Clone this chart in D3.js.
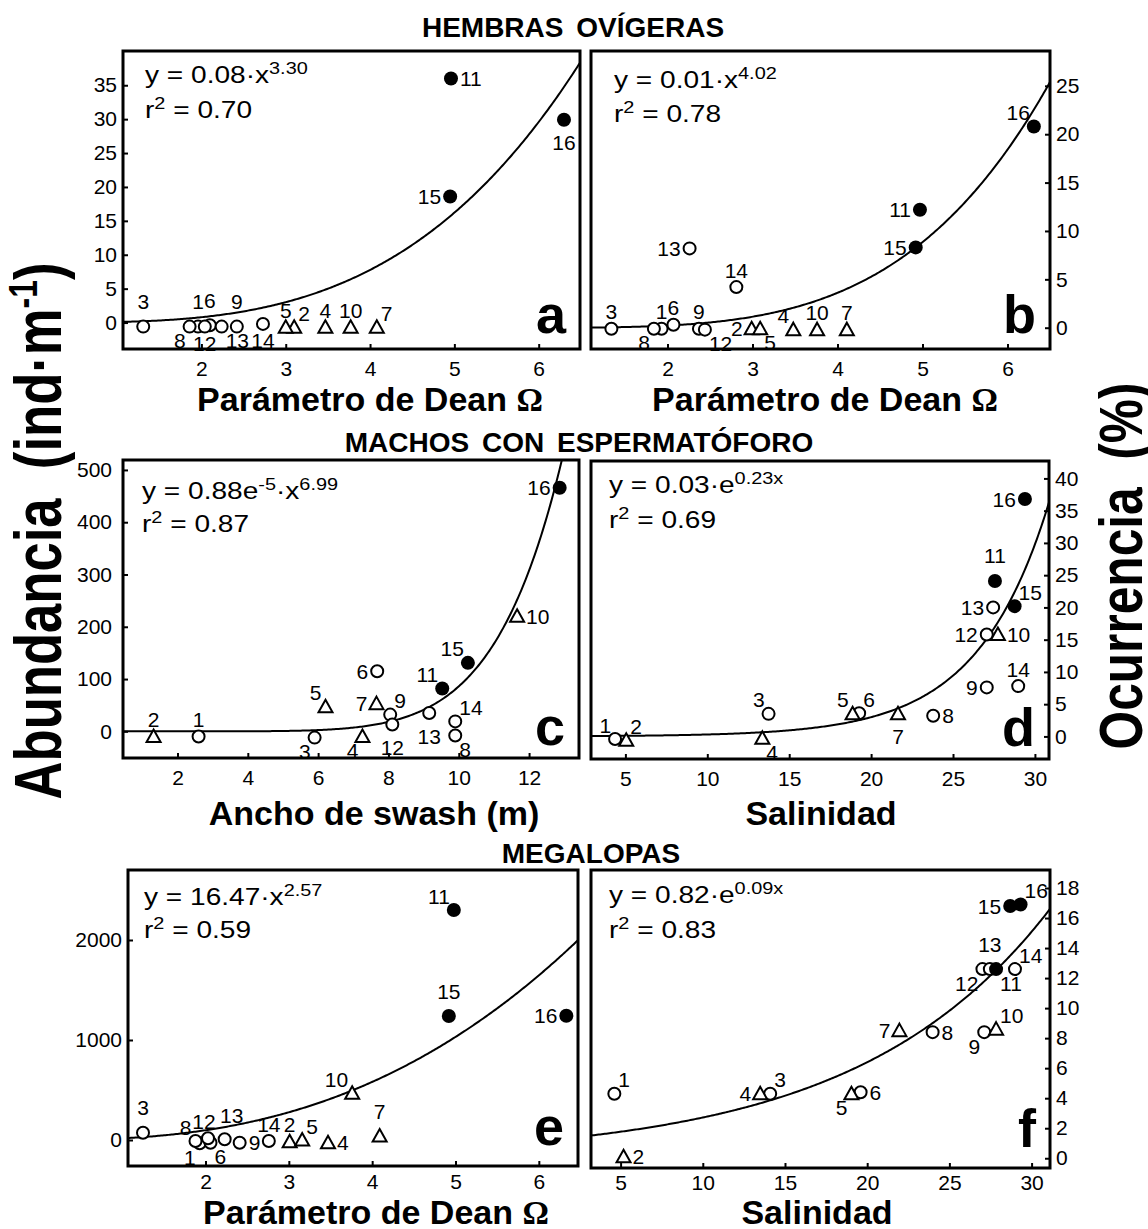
<!DOCTYPE html>
<html>
<head>
<meta charset="utf-8">
<script src="https://cdn.jsdelivr.net/npm/d3@7"></script>
<style>
  html, body { margin: 0; padding: 0; background: #fff; }
  svg { display: block; }
</style>
</head>
<body>
<script>
const FONT = '"Liberation Sans", Arial, Helvetica, sans-serif'

// beach numbers 1..16 and marker kind (o = open circle, t = triangle, f = filled circle)
const beaches = d3.range(1, 17)
const markerKind = ['o', 't', 'o', 't', 't', 'o', 't', 'o', 'o', 't', 'f', 'o', 'o', 'o', 'f', 'f']

// a: ovigerous females, abundance vs Dean parameter
const deanOvigAbund = [1.96, 3.10, 1.31, 3.47, 3.00, 2.10, 4.08, 1.86, 2.42, 3.77, 4.96, 2.04, 2.24, 2.73, 4.95, 6.30]
const ovigAbund = [-0.6, -0.7, -0.6, -0.7, -0.7, -0.4, -0.7, -0.6, -0.6, -0.7, 36.0, -0.6, -0.6, -0.2, 18.6, 29.9]
// b: ovigerous females, occurrence vs Dean parameter
const deanOvigOcc = [1.93, 2.99, 1.34, 3.48, 3.09, 2.07, 4.11, 1.84, 2.37, 3.76, 4.97, 2.44, 2.26, 2.81, 4.92, 6.31]
const ovigOcc = [-0.1, -0.1, -0.1, -0.2, -0.1, 0.3, -0.2, -0.1, -0.1, -0.2, 12.2, -0.2, 8.2, 4.2, 8.3, 20.8]
// c: males with spermatophore, abundance vs swash width
const swashMacho = [2.60, 1.32, 5.90, 7.26, 6.21, 7.68, 7.66, 9.90, 8.05, 11.66, 9.53, 8.11, 9.16, 9.90, 10.26, 12.87]
const machoAbund = [-10, -10, -12, -10, 47, 115, 53, -8, 32, 220, 82, 13, 35, 19, 131, 466]
// d: males with spermatophore, occurrence vs salinity
const salMacho = [4.37, 5.05, 13.74, 13.36, 18.87, 19.27, 21.64, 23.79, 27.06, 27.74, 27.56, 27.06, 27.45, 28.98, 28.76, 29.39]
const machoOcc = [-0.4, -0.6, 3.5, -0.3, 3.5, 3.6, 3.5, 3.2, 7.6, 15.8, 24.1, 15.8, 20.0, 7.8, 20.2, 36.8]
// e: megalopae, abundance vs Dean parameter
const deanMega = [1.93, 3.01, 1.25, 3.47, 3.16, 2.06, 4.09, 1.88, 2.41, 3.76, 4.98, 2.03, 2.23, 2.76, 4.92, 6.33]
const megaAbund = [-33, -17, 73, -27, 0, -27, 40, -10, -27, 467, 2300, 17, 7, -10, 1240, 1243]
// f: megalopae, occurrence vs salinity
const salMega = [4.62, 5.18, 14.10, 13.49, 19.04, 19.60, 21.96, 23.98, 27.12, 27.84, 27.84, 27.01, 27.46, 28.99, 28.70, 29.33]
const megaOcc = [4.3, 0.1, 4.3, 4.3, 4.3, 4.4, 8.5, 8.4, 8.4, 8.6, 12.6, 12.6, 12.6, 12.6, 16.8, 16.9]

// fitted curves (pow: a*x^b, exp: a*e^(b*x))
const fitA = { kind: 'pow', a: 0.08, b: 3.30 }
const fitB = { kind: 'pow', a: 0.0137, b: 4.02 }
const fitC = { kind: 'pow', a: 0.88e-5, b: 6.99 }
const fitD = { kind: 'exp', a: 0.03, b: 0.23 }
const fitE = { kind: 'pow', a: 16.47, b: 2.57 }
const fitF = { kind: 'exp', a: 1.15, b: 0.0858 }

// tick values
const deanTicks = [2, 3, 4, 5, 6]
const swashTicks = [2, 4, 6, 8, 10, 12]
const salTicks = [5, 10, 15, 20, 25, 30]
const ticksOvigAbund = [0, 5, 10, 15, 20, 25, 30, 35]
const ticksOvigOcc = [0, 5, 10, 15, 20, 25]
const ticksMachoAbund = [0, 100, 200, 300, 400, 500]
const ticksMachoOcc = [0, 5, 10, 15, 20, 25, 30, 35, 40]
const ticksMegaAbund = [0, 1000, 2000]
const ticksMegaOcc = [0, 2, 4, 6, 8, 10, 12, 14, 16, 18]

// point label placement per beach
const labA = ['N', 'ne', 'N', 'n', 'n', 'N', 'ne', 'sw', 'N', 'n', 'e', 's', 'se', 's', 'w', 'S']
const labB = ['n', 'w', 'n', 'nw', 'se', 'n', 'n', 'sw', 'n', 'n', 'w', 'se', 'w', 'n', 'w', 'nw']
const labC = ['n', 'n', 'sw', 'sw', 'nw', 'w', 'w', 'se', 'ne', 'e', 'nw', 'S', 'S', 'ne', 'nw', 'w']
const labD = ['nw', 'ne', 'nw', 'se', 'nw', 'ne', 'S', 'e', 'w', 'e', 'N', 'w', 'w', 'n', 'ne', 'w']
const labE = ['sw', 'n', 'N', 'e', 'ne', 'se', 'N', 'nw', 'e', 'nw', 'nw', 'nl', 'Nr', 'n', 'N', 'w']
const labF = ['ne', 'e', 'ne', 'w', 'sw', 'e', 'w', 'e', 'sw', 'ne', 'se', 'sw', 'N', 'ne', 'w', 'ne']

const OFF = {
  n: [0, -17, 'middle'], N: [0, -25, 'middle'], s: [0, 17, 'middle'], S: [0, 23, 'middle'],
  nl: [-4, -17, 'middle'], Nr: [7, -24, 'middle'],
  e: [9, 0, 'start'], w: [-9, 0, 'end'],
  ne: [4, -14, 'start'], nw: [-4, -14, 'end'], se: [4, 14, 'start'], sw: [-4, 14, 'end']
}

const panels = [
  { id: 'a', xv: deanOvigAbund, yv: ovigAbund, lab: labA, fit: fitA, box: [123, 51, 580, 349],
    xd: [1.07, 6.49], yd: [-3.9, 40.05], xt: deanTicks, yt: ticksOvigAbund, side: 'left', pad: 6, xpad: 12,
    eq: [[['y = 0.08·x', 0], ['3.30', 1]], [['r', 0], ['2', 1], [' = 0.70', 0]]], eqPos: [145, 83, 118],
    letterDy: 16, title: 'dean', titlePos: [370, 411] },
  { id: 'b', xv: deanOvigOcc, yv: ovigOcc, lab: labB, fit: fitB, box: [591, 51, 1050, 349],
    xd: [1.1, 6.5], yd: [-2.2, 28.6], xt: deanTicks, yt: ticksOvigOcc, side: 'right', pad: 6, xpad: 12,
    eq: [[['y = 0.01·x', 0], ['4.02', 1]], [['r', 0], ['2', 1], [' = 0.78', 0]]], eqPos: [614, 88, 122],
    letterDy: 16, title: 'dean', titlePos: [825, 411] },
  { id: 'c', xv: swashMacho, yv: machoAbund, lab: labC, fit: fitC, box: [123, 460, 579, 758],
    xd: [0.45, 13.42], yd: [-51, 519], xt: swashTicks, yt: ticksMachoAbund, side: 'left', pad: 11, xpad: 12,
    eq: [[['y = 0.88e', 0], ['-5', 1], ['·x', 0], ['6.99', 1]], [['r', 0], ['2', 1], [' = 0.87', 0]]], eqPos: [142, 499, 532],
    letterDy: 13, title: 'Ancho de swash (m)', titlePos: [374, 825] },
  { id: 'd', xv: salMacho, yv: machoOcc, lab: labD, fit: fitD, box: [591, 461, 1049, 759],
    xd: [2.9, 30.86], yd: [-3.5, 42.7], xt: salTicks, yt: ticksMachoOcc, side: 'right', pad: 6, xpad: 12,
    eq: [[['y = 0.03·e', 0], ['0.23x', 1]], [['r', 0], ['2', 1], [' = 0.69', 0]]], eqPos: [609, 493, 528],
    letterDy: 13, title: 'Salinidad', titlePos: [821, 825] },
  { id: 'e', xv: deanMega, yv: megaAbund, lab: labE, fit: fitE, box: [128, 870, 578, 1166],
    xd: [1.07, 6.47], yd: [-260, 2700], xt: deanTicks, yt: ticksMegaAbund, side: 'left', pad: 6, xpad: 8,
    eq: [[['y = 16.47·x', 0], ['2.57', 1]], [['r', 0], ['2', 1], [' = 0.59', 0]]], eqPos: [144, 905, 938],
    letterDy: 21, title: 'dean', titlePos: [376, 1224] },
  { id: 'f', xv: salMega, yv: megaOcc, lab: labF, fit: fitF, box: [591, 870, 1050, 1168],
    xd: [3.2, 31.12], yd: [-0.65, 19.2], xt: salTicks, yt: ticksMegaOcc, side: 'right', pad: 6, xpad: 7,
    eq: [[['y = 0.82·e', 0], ['0.09x', 1]], [['r', 0], ['2', 1], [' = 0.83', 0]]], eqPos: [609, 903, 938],
    letterDy: 21, title: 'Salinidad', titlePos: [817, 1224] }
]

const rowTitles = [
  { text: 'HEMBRAS OVÍGERAS', x: 573, y: 37 },
  { text: 'MACHOS CON ESPERMATÓFORO', x: 579, y: 452 },
  { text: 'MEGALOPAS', x: 591, y: 863 }
]

function fitValue(fit, x) {
  return fit.kind === 'pow' ? fit.a * Math.pow(x, fit.b) : fit.a * Math.exp(fit.b * x)
}

const W = 1148
const H = 1229

const svg = d3.select('body')
  .append('svg')
  .attr('width', W)
  .attr('height', H)
  .attr('viewBox', `0 0 ${W} ${H}`)
  .attr('font-family', FONT)

svg.append('rect').attr('width', W).attr('height', H).attr('fill', '#fff')

const defs = svg.append('defs')

panels.forEach(p => {
  const [x0, y0, x1, y1] = p.box
  const xs = d3.scaleLinear().domain(p.xd).range([x0, x1])
  const ys = d3.scaleLinear().domain(p.yd).range([y1, y0])
  const g = svg.append('g')

  defs.append('clipPath').attr('id', 'clip-' + p.id)
    .append('rect')
    .attr('x', x0).attr('y', y0)
    .attr('width', x1 - x0).attr('height', y1 - y0)

  // fitted curve
  const samples = d3.range(0, 301).map(i => p.xd[0] + (p.xd[1] - p.xd[0]) * i / 300)
  g.append('path')
    .datum(samples)
    .attr('clip-path', `url(#clip-${p.id})`)
    .attr('fill', 'none')
    .attr('stroke', '#000')
    .attr('stroke-width', 2)
    .attr('d', d3.line().x(d => xs(d)).y(d => ys(fitValue(p.fit, d))))

  // axes with inward ticks
  const xAxis = g.append('g')
    .attr('transform', `translate(0,${y1})`)
    .call(d3.axisBottom(xs).tickValues(p.xt).tickSize(-5).tickPadding(p.xpad).tickFormat(d3.format('d')))
  const yAxis = g.append('g')
    .attr('transform', `translate(${p.side === 'left' ? x0 : x1},0)`)
    .call((p.side === 'left' ? d3.axisLeft(ys) : d3.axisRight(ys))
      .tickValues(p.yt).tickSize(-5).tickPadding(p.pad).tickFormat(d3.format('d')))
  ;[xAxis, yAxis].forEach(a => {
    a.attr('font-size', 21).attr('font-family', FONT)
    a.select('.domain').remove()
    a.selectAll('.tick line').attr('stroke', '#000').attr('stroke-width', 2)
    a.selectAll('.tick text').attr('fill', '#000')
  })

  // markers
  const pts = beaches.map((b, i) => ({ b, kind: markerKind[i], x: p.xv[i], y: p.yv[i], pos: p.lab[i] }))
  const mk = g.append('g')
  mk.selectAll('circle.open')
    .data(pts.filter(d => d.kind === 'o'))
    .join('circle')
    .attr('cx', d => xs(d.x))
    .attr('cy', d => ys(d.y))
    .attr('r', 6)
    .attr('fill', '#fff')
    .attr('stroke', '#000')
    .attr('stroke-width', 2)
  mk.selectAll('path.tri')
    .data(pts.filter(d => d.kind === 't'))
    .join('path')
    .attr('transform', d => `translate(${xs(d.x)},${ys(d.y)})`)
    .attr('d', 'M0,-7L7,5.5L-7,5.5Z')
    .attr('fill', '#fff')
    .attr('stroke', '#000')
    .attr('stroke-width', 2)
  mk.selectAll('circle.fill')
    .data(pts.filter(d => d.kind === 'f'))
    .join('circle')
    .attr('cx', d => xs(d.x))
    .attr('cy', d => ys(d.y))
    .attr('r', 7)
    .attr('fill', '#000')

  // beach labels
  g.append('g')
    .selectAll('text')
    .data(pts)
    .join('text')
    .attr('x', d => xs(d.x) + OFF[d.pos][0])
    .attr('y', d => ys(d.y) + OFF[d.pos][1] + 7.5)
    .attr('text-anchor', d => OFF[d.pos][2])
    .attr('font-size', 21)
    .attr('fill', '#000')
    .text(d => d.b)

  // frame
  g.append('rect')
    .attr('x', x0).attr('y', y0)
    .attr('width', x1 - x0).attr('height', y1 - y0)
    .attr('fill', 'none')
    .attr('stroke', '#000')
    .attr('stroke-width', 3)

  // equation block
  const [ex, ey1, ey2] = p.eqPos
  ;[ey1, ey2].forEach((ey, li) => {
    const t = g.append('text')
      .attr('transform', `translate(${ex},${ey}) scale(1.17,1)`)
      .attr('font-size', 24)
      .attr('fill', '#000')
    let up = false
    p.eq[li].forEach(([s, sup]) => {
      const dy = sup && !up ? -9 : (!sup && up ? 9 : 0)
      up = !!sup
      t.append('tspan')
        .attr('dy', dy)
        .attr('font-size', sup ? 17 : 24)
        .text(s)
    })
  })

  // panel letter
  g.append('text')
    .attr('x', x1 - 14)
    .attr('y', y1 - p.letterDy)
    .attr('text-anchor', 'end')
    .attr('font-size', 54)
    .attr('font-weight', 'bold')
    .text(p.id)

  // x axis title
  const tt = g.append('text')
    .attr('x', p.titlePos[0])
    .attr('y', p.titlePos[1])
    .attr('text-anchor', 'middle')
    .attr('font-size', 34)
    .attr('font-weight', 'bold')
  if (p.title === 'dean') {
    tt.append('tspan').text('Parámetro de Dean ')
    tt.append('tspan')
      .attr('font-family', '"Liberation Serif", "DejaVu Serif", serif')
      .attr('font-size', 33)
      .text('Ω')
  } else {
    tt.text(p.title)
  }
})

// row titles
svg.append('g')
  .selectAll('text')
  .data(rowTitles)
  .join('text')
  .attr('x', d => d.x)
  .attr('y', d => d.y)
  .attr('text-anchor', 'middle')
  .attr('font-size', 28)
  .attr('font-weight', 'bold')
  .attr('word-spacing', 5)
  .text(d => d.text)

// rotated side labels, squeezed along their length
function sideLabel(x, y, len, size, build) {
  const t = svg.append('text')
    .attr('text-anchor', 'middle')
    .attr('font-size', size)
    .attr('font-weight', 'bold')
    .style('white-space', 'pre')
  build(t)
  const natural = t.node().getComputedTextLength()
  t.attr('transform', `translate(${x},${y}) rotate(-90) scale(${len / natural},1)`)
}

sideLabel(61, 531, 537, 66, t => {
  t.append('tspan').text('Abundancia  (ind·m')
  t.append('tspan').attr('font-size', 40).attr('dy', -24).text('-1')
  t.append('tspan').attr('dy', 24).text(')')
})

sideLabel(1142, 566, 367, 62, t => {
  t.text('Ocurrencia  (%)')
})
</script>
</body>
</html>
